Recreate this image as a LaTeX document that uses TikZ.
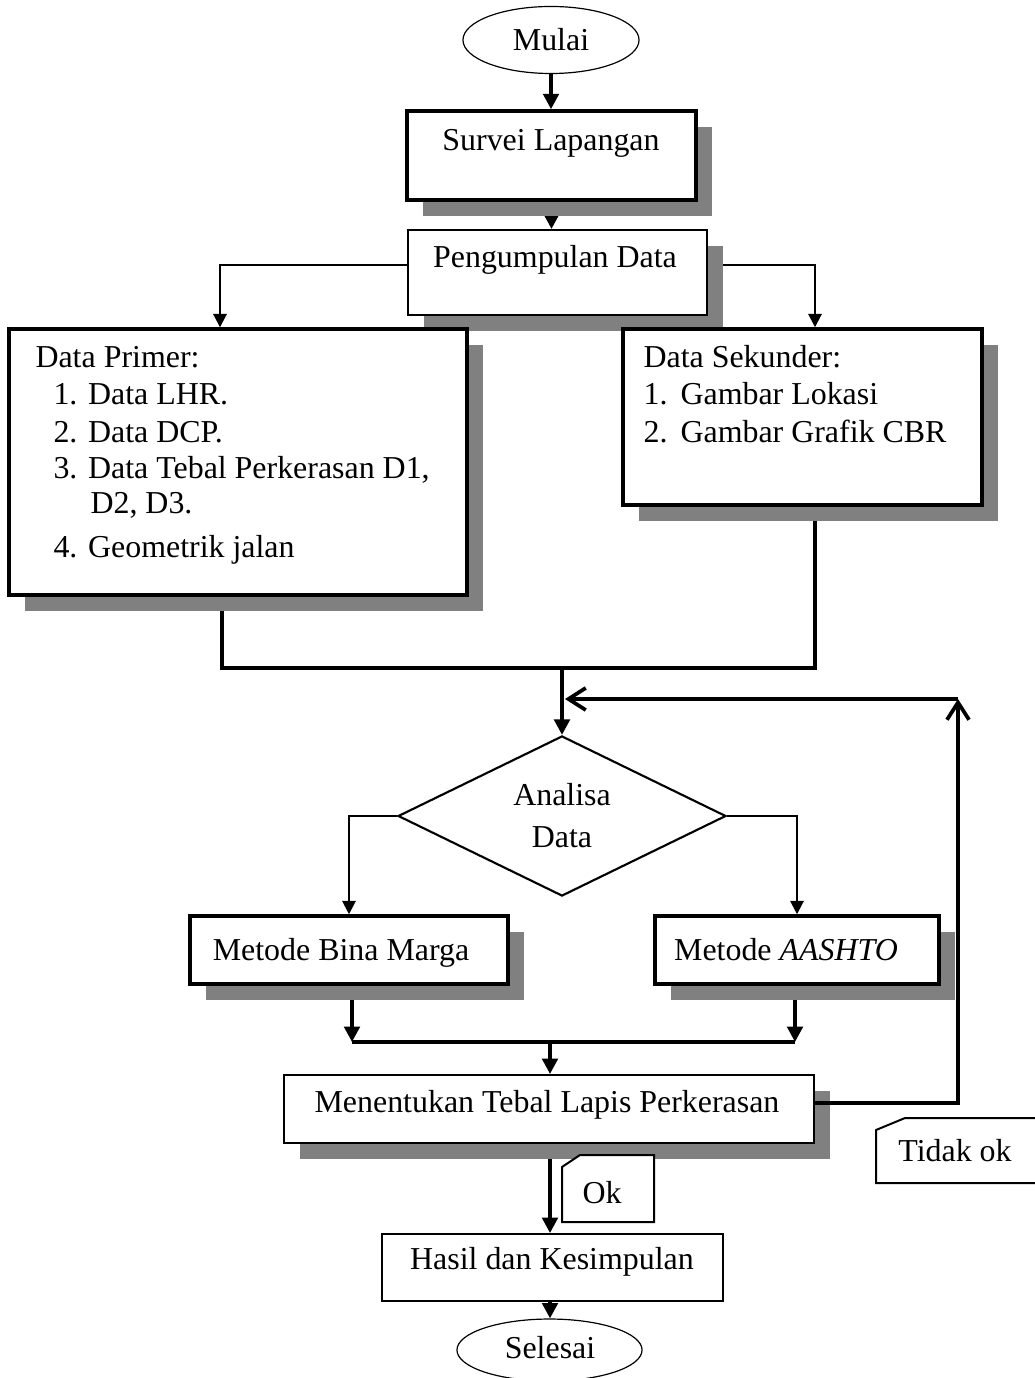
\documentclass[tikz,border=0pt]{standalone}
\usepackage{fontspec}
\setmainfont{Liberation Serif}
\usetikzlibrary{arrows.meta,shapes.geometric,shadows,backgrounds}
\begin{document}
\begin{tikzpicture}[x=0.376pt,y=-0.376pt,
  every node/.style={font=\fontsize{12pt}{14pt}\selectfont, inner sep=0pt},
  txt/.style={anchor=base},
  txtl/.style={anchor=base west},
  boxbase/.style={rectangle, draw, fill=white},
  heavybox/.style={boxbase, line width=1.3pt},
  lightbox/.style={boxbase, line width=0.7pt},
  shade/.style={drop shadow={shadow xshift=6pt, shadow yshift=-6pt, fill=black!50, opacity=1}},
  terminal/.style={ellipse, draw, line width=0.45pt, fill=white},
  heavy/.style={line width=1.4pt},
  light/.style={line width=0.75pt},
  solidarrow/.style={-{Triangle[length=5.8pt,width=5.8pt]}},
  smallarrow/.style={-{Triangle[length=5pt,width=5pt]}},
  openarrow/.style={-{Straight Barb[length=6.5pt,width=8.3pt]}},
]
\useasboundingbox (0,0) rectangle (1034,1378);

% start / end terminals
\node[terminal, minimum width=66.2pt, minimum height=25.2pt] (mulai) at (551,40) {};
\node[txt] (mulaiT) at (551,51) {Mulai};

% survey and data collection
\node[heavybox, shade, minimum width=108.7pt, minimum height=33.5pt] (survei) at (551.5,155.5) {};
\node[txt] (surveiT) at (551,151) {Survei Lapangan};
\node[lightbox, shade, minimum width=112.4pt, minimum height=32pt] (peng) at (557.5,272.5) {};
\node[txt] (pengT) at (555,268) {Pengumpulan Data};

% primary data
\node[heavybox, shade, minimum width=172.2pt, minimum height=100pt] (primer) at (238,462) {};
\node[txtl] (p0) at (35,367) {Data Primer:};
\node[txtl] (p1) at (53,404) {1. Data LHR.};
\node[txtl] (p2) at (53,442) {2. Data DCP.};
\node[txtl] (p3) at (53,478) {3. Data Tebal Perkerasan D1,};
\node[txtl] (p3b) at (90,513) {D2, D3.};
\node[txtl] (p4) at (53,557) {4. Geometrik jalan};

% secondary data
\node[heavybox, shade, minimum width=135pt, minimum height=66.2pt] (sek) at (802.5,417) {};
\node[txtl] (s0) at (643,367) {Data Sekunder:};
\node[txtl] (s1n) at (643,404) {1.};
\node[txtl] (s1) at (680,404) {Gambar Lokasi};
\node[txtl] (s2n) at (643,442) {2.};
\node[txtl] (s2) at (680,442) {Gambar Grafik CBR};

% analysis
\node[diamond, draw, line width=0.8pt, fill=white, aspect=2.05,
      minimum width=123.3pt, minimum height=60.2pt] (dec) at (562,816) {};
\node[txt] (decT1) at (562,805) {Analisa};
\node[txt] (decT2) at (562,847) {Data};

% methods
\node[heavybox, shade, minimum width=119.6pt, minimum height=25.6pt] (bina) at (349,950) {};
\node[txt] (binaT) at (341,960) {Metode Bina Marga};
\node[heavybox, shade, minimum width=106.8pt, minimum height=25.6pt] (aashto) at (797,950) {};
\node[txt] (aashtoT) at (786,960) {Metode \textit{AASHTO}};

% thickness, results, end
\node[lightbox, shade, minimum width=199.3pt, minimum height=25.6pt] (ment) at (549,1109) {};
\node[txt] (mentT) at (547,1112) {Menentukan Tebal Lapis Perkerasan};
\node[lightbox, minimum width=128.2pt, minimum height=25.2pt] (hasil) at (552.5,1267.5) {};
\node[txt] (hasilT) at (552,1269) {Hasil dan Kesimpulan};
\node[terminal, minimum width=69.6pt, minimum height=23.3pt] (selesai) at (549.5,1350) {};
\node[txt] (selesaiT) at (550,1358) {Selesai};

% decision tags
\draw[light, fill=white] (876,1130) -- (905,1118) -- (1040,1118) -- (1040,1183) -- (876,1183) -- cycle;
\node[txt] (tidak) at (955,1161) {Tidak ok};
\draw[light, fill=white] (562,1167) -- (580,1155) -- (654,1155) -- (654,1222) -- (562,1222) -- cycle;
\node[txt] (ok) at (602,1203) {Ok};

% connectors
\coordinate (join) at (562,668);
\coordinate (merge) at (550,1042);
\coordinate (loop) at (958,699);
\coordinate (loopend) at (565,699);
\begin{scope}[on background layer]
\draw[heavy, solidarrow] (mulai.south) -- (551,0 |- survei.north);
\draw[heavy, solidarrow] (survei.south) -- (survei.south |- peng.north);
\draw[light, smallarrow] ([yshift=2.8pt]peng.west) -| (220,0 |- primer.north);
\draw[light, smallarrow] ([yshift=2.8pt]peng.east) -| (815,0 |- sek.north);
\draw[heavy] (222,0 |- primer.south) |- (join) -| (815,0 |- sek.south);
\draw[heavy, solidarrow] (join) -- (dec.north);
\draw[light, smallarrow] (dec.west) -| (bina.north);
\draw[light, smallarrow] (dec.east) -| (aashto.north);
\draw[heavy, solidarrow] (352,0 |- bina.south) -- (352,1042);
\draw[heavy, solidarrow] (795,0 |- aashto.south) -- (795,1042);
\draw[heavy] (352,1042) -- (795,1042);
\draw[heavy, solidarrow] (merge) -- (merge |- ment.north);
\draw[heavy, solidarrow] (550,0 |- ment.south) -- (550,0 |- hasil.north);
\draw[heavy, solidarrow] (550,0 |- hasil.south) -- (550,0 |- selesai.north);
\end{scope}
% feedback loop
\draw[heavy, openarrow] ([yshift=2.3pt]ment.east) -| (loop);
\draw[heavy, openarrow] (loop) -- (loopend);
\end{tikzpicture}
\end{document}
